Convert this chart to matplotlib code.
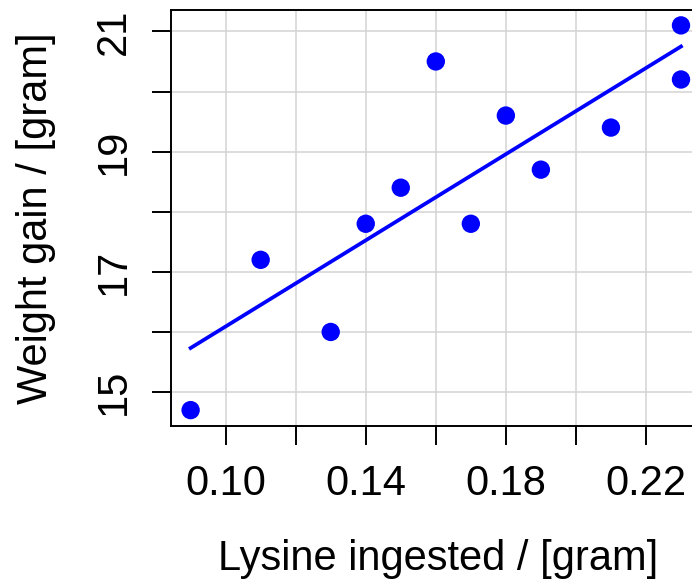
import numpy as np
import matplotlib
matplotlib.use("Agg")
import matplotlib.pyplot as plt

plt.rcParams['font.family'] = ['Liberation Sans', 'DejaVu Sans']

# Lysine intake vs. weight gain
lysine = [0.09, 0.11, 0.13, 0.14, 0.15, 0.16, 0.17, 0.18, 0.19, 0.21, 0.23, 0.23]
gain = [14.7, 17.2, 16.0, 17.8, 18.4, 20.5, 17.8, 19.6, 18.7, 19.4, 21.1, 20.2]

x_ticks = [0.10, 0.12, 0.14, 0.16, 0.18, 0.20, 0.22]
x_labels = ["0.10", "", "0.14", "", "0.18", "", "0.22"]
y_ticks = [15, 16, 17, 18, 19, 20, 21]
y_labels = ["15", "", "17", "", "19", "", "21"]

x = np.array(lysine)
y = np.array(gain)
slope, intercept = np.polyfit(x, y, 1)

W, H = 692, 581
fig = plt.figure(figsize=(W / 100, H / 100), dpi=100)
left, right, bottom, top = 171, 700.6, 425.5, 10
ax = fig.add_axes([left / W, (H - bottom) / H, (right - left) / W, (bottom - top) / H])

# 4% padding around the data range
xr = x.max() - x.min()
yr = y.max() - y.min()
ax.set_xlim(x.min() - 0.04 * xr, x.max() + 0.04 * xr)
ax.set_ylim(y.min() - 0.04 * yr, y.max() + 0.04 * yr)

FS = 30
ax.set_xticks(x_ticks)
ax.set_xticklabels(x_labels)
ax.set_yticks(y_ticks)
ax.set_yticklabels(y_labels, rotation=90, va='center')

ax.grid(True, color='#d3d3d3', linewidth=1.1)
ax.set_axisbelow(True)

xs = np.array([x.min(), x.max()])
ax.plot(xs, intercept + slope * xs, color='blue', linewidth=2.7, zorder=3)
ax.scatter(x, y, s=175, color='blue', edgecolors='none', zorder=4, clip_on=False)

for side in ['left', 'top', 'bottom']:
    ax.spines[side].set_linewidth(1.4)
    ax.spines[side].set_color('black')
ax.spines['right'].set_visible(False)

ax.tick_params(axis='both', direction='out', length=13.5, width=1.4,
               labelsize=FS, color='black')
ax.tick_params(axis='x', pad=14.5)
ax.tick_params(axis='y', pad=13)

ax.set_xlabel("Lysine ingested / [gram]", fontsize=FS, va='baseline', ha='center')
ax.xaxis.set_label_coords(0.505, -0.3478)
ax.set_ylabel("Weight gain / [gram]", fontsize=FS, va='baseline', ha='center',
              rotation_mode='anchor')
ax.yaxis.set_label_coords(-0.2341, 0.498)

fig.savefig("out.png", dpi=100)
